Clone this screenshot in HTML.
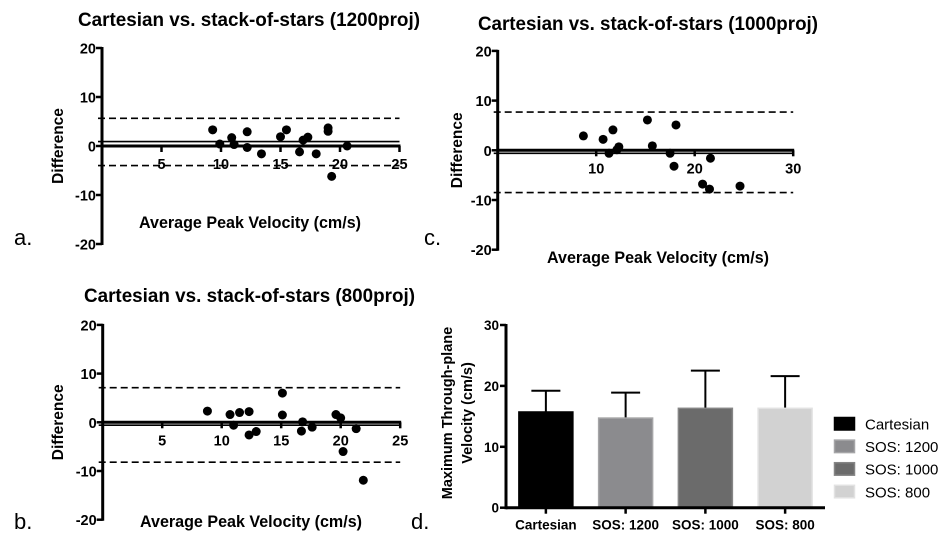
<!DOCTYPE html>
<html><head><meta charset="utf-8">
<style>
html,body{margin:0;padding:0;background:#fff;}
svg{display:block;font-family:"Liberation Sans",Arial,sans-serif;}
</style></head>
<body>
<svg id="fig" width="939" height="548" viewBox="0 0 939 548" xmlns="http://www.w3.org/2000/svg"></svg>
<script>
// ---- Panel a data (1200proj) ----
const aX = [9.3, 9.9, 10.9, 11.1, 12.2, 12.2, 13.4, 15.0, 15.5, 16.6, 16.9, 17.3, 18.0, 19.0, 19.0, 19.3, 20.6];
const aY = [3.3, 0.4, 1.7, 0.3, 2.9, -0.3, -1.6, 1.9, 3.3, -1.2, 1.2, 1.8, -1.6, 3.7, 3.0, -6.2, 0.0];
const aBias = [0.9];
const aLimits = [5.65, -4.0];
const aXTicks = [5, 10, 15, 20, 25];
// ---- Panel c data (1000proj) ----
const cX = [8.7, 10.7, 11.7, 11.3, 12.1, 12.3, 15.2, 15.7, 17.5, 17.9, 18.1, 20.8, 21.5, 21.6, 24.6];
const cY = [2.9, 2.2, 4.1, -0.6, 0.1, 0.7, 6.1, 0.9, -0.6, -3.2, 5.1, -6.8, -7.8, -1.6, -7.2];
const cBias = [-0.6];
const cLimits = [7.7, -8.5];
const cXTicks = [10, 20, 30];
// ---- Panel b data (800proj) ----
const bX = [8.8, 10.7, 11.0, 11.5, 12.3, 12.3, 12.9, 15.1, 15.1, 16.8, 16.7, 17.6, 19.6, 20.0, 20.2, 21.3, 21.9];
const bY = [2.3, 1.6, -0.6, 2.0, 2.2, -2.6, -1.9, 6.0, 1.5, 0.1, -1.8, -1.0, 1.6, 0.9, -6.0, -1.3, -11.9];
const bBias = [-0.6];
const bLimits = [7.1, -8.2];
const bXTicks = [5, 10, 15, 20, 25];
const yTicks = [20, 10, 0, -10, -20];
// ---- Panel d data ----
const dCats = ["Cartesian", "SOS: 1200", "SOS: 1000", "SOS: 800"];
const dMeans = [15.8, 14.8, 16.4, 16.4];
const dErr = [3.4, 4.1, 6.1, 5.2];
const dYTicks = [0, 10, 20, 30];

const NS = "http://www.w3.org/2000/svg";
const svg = document.getElementById("fig");
function mk(tag, attrs, parent, txt) {
  const e = document.createElementNS(NS, tag);
  for (const k in attrs) e.setAttribute(k, attrs[k]);
  if (txt !== undefined) e.textContent = txt;
  (parent || svg).appendChild(e);
  return e;
}

function blandAltman(o) {
  const g = mk("g", {});
  
  
  const sx = v => o.x0 + v * o.kx;
  const sy = v => o.y0 - v * o.ky;
  const t = mk("text", {x: o.tx, y: o.ty, "font-size": 19, "font-weight": "bold", textLength: o.tw, lengthAdjust: "spacingAndGlyphs"}, g, o.title);
  
  
  o.limits.forEach(v => {
    const l = mk("line", {x1: o.x0 - 4, x2: sx(o.xmax), y1: sy(v), y2: sy(v), stroke: "#000", "stroke-width": 1.6, "stroke-dasharray": "7,4"}, g);
    
    
  });
  o.bias.forEach(v => {
    const l = mk("line", {x1: o.x0 - 4, x2: sx(o.xmax), y1: sy(v), y2: sy(v), stroke: "#000", "stroke-width": 1.6}, g);
    
    
  });
  const ya = mk("line", {x1: o.x0, x2: o.x0, y1: sy(20) - 1, y2: sy(-20) + 1, stroke: "#000", "stroke-width": 3}, g);
  
  
  yTicks.forEach(v => {
    const tk = mk("line", {x1: o.x0 - 6, x2: o.x0, y1: sy(v), y2: sy(v), stroke: "#000", "stroke-width": 2.5}, g);
    
    
    const lb = mk("text", {x: o.x0 - 6, y: sy(v) + 5.5, "text-anchor": "end", "font-size": 14.5, "font-weight": "bold"}, g, String(v));
    
    
  });
  const xa = mk("line", {x1: o.x0, x2: sx(o.xmax) + 1, y1: sy(0), y2: sy(0), stroke: "#000", "stroke-width": 3}, g);
  
  
  o.xticks.forEach(v => {
    const tk = mk("line", {x1: sx(v), x2: sx(v), y1: sy(0), y2: sy(0) + 6, stroke: "#000", "stroke-width": 2.5}, g);
    
    
    const lb = mk("text", {x: sx(v), y: sy(0) + 23, "text-anchor": "middle", "font-size": 14.5, "font-weight": "bold"}, g, String(v));
    
    
  });
  o.xs.forEach((xv, i) => {
    const c = mk("circle", {cx: sx(xv), cy: sy(o.ys[i]), r: 4.5, fill: "#000"}, g);
    
    
  });
  const xl = mk("text", {x: o.xlx, y: o.xly, "text-anchor": "middle", "font-size": 16.5, "font-weight": "bold", textLength: 222, lengthAdjust: "spacingAndGlyphs"}, g, "Average Peak Velocity (cm/s)");
  
  
  const yl = mk("text", {x: 0, y: 0, "text-anchor": "middle", "font-size": 15.5, "font-weight": "bold", transform: `translate(${o.ylx},${sy(0)}) rotate(-90)`}, g, "Difference");
  
  
  const pl = mk("text", {x: o.px, y: o.py, "font-size": 22}, g, o.letter);
  
  
}

blandAltman({name: "panel-a", title: "Cartesian vs. stack-of-stars (1200proj)", tx: 78, ty: 26, tw: 342,
  x0: 102, kx: 11.9, y0: 146, ky: 4.9, xmax: 25, xticks: aXTicks, xs: aX, ys: aY, bias: aBias, limits: aLimits,
  xlx: 250, xly: 228, ylx: 63, letter: "a.", px: 14, py: 245});
blandAltman({name: "panel-c", title: "Cartesian vs. stack-of-stars (1000proj)", tx: 478, ty: 30, tw: 340,
  x0: 497.7, kx: 9.85, y0: 150.3, ky: 4.97, xmax: 30, xticks: cXTicks, xs: cX, ys: cY, bias: cBias, limits: cLimits,
  xlx: 658, xly: 263, ylx: 462, letter: "c.", px: 424, py: 245});
blandAltman({name: "panel-b", title: "Cartesian vs. stack-of-stars (800proj)", tx: 84, ty: 302, tw: 331,
  x0: 102.7, kx: 11.9, y0: 422.3, ky: 4.87, xmax: 25, xticks: bXTicks, xs: bX, ys: bY, bias: bBias, limits: bLimits,
  xlx: 251, xly: 527, ylx: 63, letter: "b.", px: 14, py: 529});

// ---- Panel d bar chart ----
(function () {
  const g = mk("g", {});
  
  
  const x0 = 506, x1 = 825, y0 = 507.7, ky = 6.09;
  const sy = v => y0 - v * ky;
  const band = (x1 - x0) / dCats.length;
  const fills = ["#000000", "#8b8b8e", "#6b6b6b", "#d2d2d2"];
  const strokes = ["#000000", "#a5a5a7", "#858585", "#e2e2e2"];
  dCats.forEach((c, i) => {
    const cx = x0 + band * (i + 0.5);
    const bw = 55;
    const err = mk("line", {x1: cx, x2: cx, y1: sy(dMeans[i]) + 2, y2: sy(dMeans[i] + dErr[i]), stroke: "#000", "stroke-width": 2}, g);
    
    
    const cap = mk("line", {x1: cx - 14.5, x2: cx + 14.5, y1: sy(dMeans[i] + dErr[i]), y2: sy(dMeans[i] + dErr[i]), stroke: "#000", "stroke-width": 2}, g);
    
    
    const r = mk("rect", {x: cx - bw / 2 + 0.5, y: sy(dMeans[i]) + 0.5, width: bw - 1, height: dMeans[i] * ky - 1, fill: fills[i], stroke: strokes[i], "stroke-width": 1.5}, g);
    
    
    const tk = mk("line", {x1: cx, x2: cx, y1: y0, y2: y0 + 6, stroke: "#000", "stroke-width": 2.5}, g);
    
    
    const lb = mk("text", {x: cx, y: y0 + 22, "text-anchor": "middle", "font-size": 13.5, "font-weight": "bold"}, g, c);
    
    
    const ly = 417 + i * 22.6;
    const sw = mk("rect", {x: 834.5, y: ly + 0.5, width: 20, height: 12.5, fill: fills[i], stroke: strokes[i], "stroke-width": 1.5}, g);
    
    
    const lt = mk("text", {x: 865, y: ly + 12.5, "font-size": 15}, g, c);
    
    
  });
  const ya = mk("line", {x1: x0, x2: x0, y1: sy(30) - 1, y2: y0 + 1.5, stroke: "#000", "stroke-width": 3}, g);
  
  
  const xa = mk("line", {x1: x0, x2: x1, y1: y0, y2: y0, stroke: "#000", "stroke-width": 3}, g);
  
  
  dYTicks.forEach(v => {
    const tk = mk("line", {x1: x0 - 6, x2: x0, y1: sy(v), y2: sy(v), stroke: "#000", "stroke-width": 2.5}, g);
    
    
    const lb = mk("text", {x: x0 - 7, y: sy(v) + 5, "text-anchor": "end", "font-size": 13.5, "font-weight": "bold"}, g, String(v));
    
    
  });
  const yl = mk("text", {x: 0, y: 0, "text-anchor": "middle", "font-size": 14.5, "font-weight": "bold", transform: "translate(452,413) rotate(-90)"}, g, "Maximum Through-plane");
  
  
  const yl2 = mk("text", {x: 0, y: 0, "text-anchor": "middle", "font-size": 14.5, "font-weight": "bold", transform: "translate(472,413) rotate(-90)"}, g, "Velocity (cm/s)");
  
  
  const pl = mk("text", {x: 411, y: 529, "font-size": 22}, g, "d.");
  
  
})();
</script>
</body></html>
